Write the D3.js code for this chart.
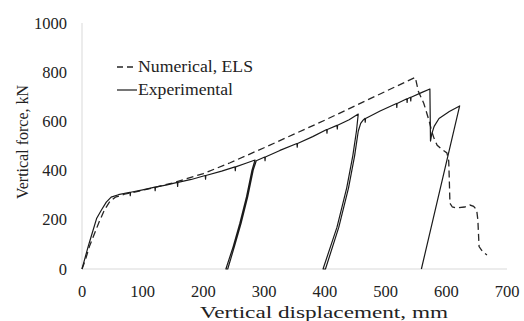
<!DOCTYPE html>
<html><head><meta charset="utf-8">
<script src="https://cdn.jsdelivr.net/npm/d3@7"></script>
<style>body{margin:0;background:#fff}svg{display:block}text{font-family:"Liberation Serif","Times New Roman",serif;fill:#222}</style>
</head><body><svg id="c" width="524" height="321"></svg>
<script>
const xTicks = [0,100,200,300,400,500,600,700];
const yTicks = [0,200,400,600,800,1000];
const seriesNames = ["Numerical, ELS","Experimental"];
// Numerical, ELS [displacement mm, force kN]
const numerical = [[0,0],[6,40],[12,90],[20,140],[28,190],[37,240],[46,275],[55,292],[70,304],[100,320],[150,350],[200,388],[244,432],[300,493],[400,605],[500,722],[549,779],[554,722],[563,673],[572,600],[576,560],[580,530],[585,503],[592,488],[601,472],[604,440],[605,360],[606,267],[610,252],[617,248],[630,252],[639,260],[645,255],[650,240],[652,200],[654,91],[660,70],[667,57]];
// Experimental [displacement mm, force kN]
const experimental = [[0,0],[5,45],[10,90],[15,131],[24,205],[32,240],[40,272],[48,292],[60,302],[79,312],[79.5,298],[80,312],[100,322],[120,333],[120.5,318],[121,333],[140,342],[157,352],[157.5,336],[158,352],[180,364],[203,380],[203.5,365],[204,380],[230,398],[252,415],[252.5,400],[253,415],[270,430],[285,443],
[280,402],[271,294],[260,186],[249,91],[237,0],
[240,0],[251,91],[262,186],[273,294],[282,402],[287,440],[301,455],[301.5,440],[302,455],
[326,482],[354,510],[354.5,495],[355,510],[380,538],[403,567],[403.5,552],[404,567],[420,584],[420.5,569],[421,584],[440,607],[455,630],
[452,560],[446,460],[436,330],[420,170],[397,0],
[401,0],[423,170],[439,330],[449,460],[455,560],[459,592],[463,605],[466,612],[466.5,597],[467,612],[491,642],[518,673],[518.5,657],[519,673],[535,692],[535.5,677],[536,692],[541,698],[541.5,683],[542,698],[560,718],[573,732],
[574,520],[576,548],[580,580],[588,612],[605,640],[622,663],
[559,0]];

const svg = d3.select("#c");
const x = d3.scaleLinear().domain([0,700]).range([82,507]);
const y = d3.scaleLinear().domain([0,1000]).range([269,23]);

svg.append("line").attr("x1",x(0)).attr("x2",x(0)).attr("y1",y(1000)).attr("y2",y(0)).attr("stroke","#d9d9d9");
svg.append("line").attr("x1",x(0)).attr("x2",x(700)).attr("y1",y(0)).attr("y2",y(0)).attr("stroke","#d9d9d9");

svg.selectAll(".yt").data(yTicks).enter().append("text")
  .attr("x",67).attr("y",d=>y(d)+5.5).attr("text-anchor","end").attr("font-size",16.5).text(d=>d);
svg.selectAll(".xt").data(xTicks).enter().append("text")
  .attr("x",d=>x(d)).attr("y",297).attr("text-anchor","middle").attr("font-size",16.5).text(d=>d);

svg.append("text").attr("x",200).attr("y",318).attr("font-size",16)
  .attr("textLength",248).attr("lengthAdjust","spacingAndGlyphs").text("Vertical displacement, mm");
svg.append("text").attr("transform","translate(28,142) rotate(-90)").attr("text-anchor","middle").attr("font-size",16)
  .text("Vertical force, kN");

const line = d3.line().x(d=>x(d[0])).y(d=>y(d[1]));
svg.append("path").datum(numerical).attr("d",line).attr("fill","none").attr("stroke","#262626").attr("stroke-width",1.3).attr("stroke-dasharray","7,4");
svg.append("path").datum(experimental).attr("d",line).attr("fill","none").attr("stroke","#1a1a1a").attr("stroke-width",1.2).attr("stroke-linejoin","round");

// legend
const lg = svg.append("g");
lg.append("line").attr("x1",117).attr("x2",137).attr("y1",67).attr("y2",67).attr("stroke","#262626").attr("stroke-width",1.3).attr("stroke-dasharray","6,4");
lg.append("text").attr("x",138).attr("y",72).attr("font-size",16).attr("textLength",115).attr("lengthAdjust","spacingAndGlyphs").text(seriesNames[0]);
lg.append("line").attr("x1",117).attr("x2",137).attr("y1",90).attr("y2",90).attr("stroke","#1a1a1a").attr("stroke-width",1.2);
lg.append("text").attr("x",138).attr("y",95).attr("font-size",16).attr("textLength",95).attr("lengthAdjust","spacingAndGlyphs").text(seriesNames[1]);
</script></body></html>
